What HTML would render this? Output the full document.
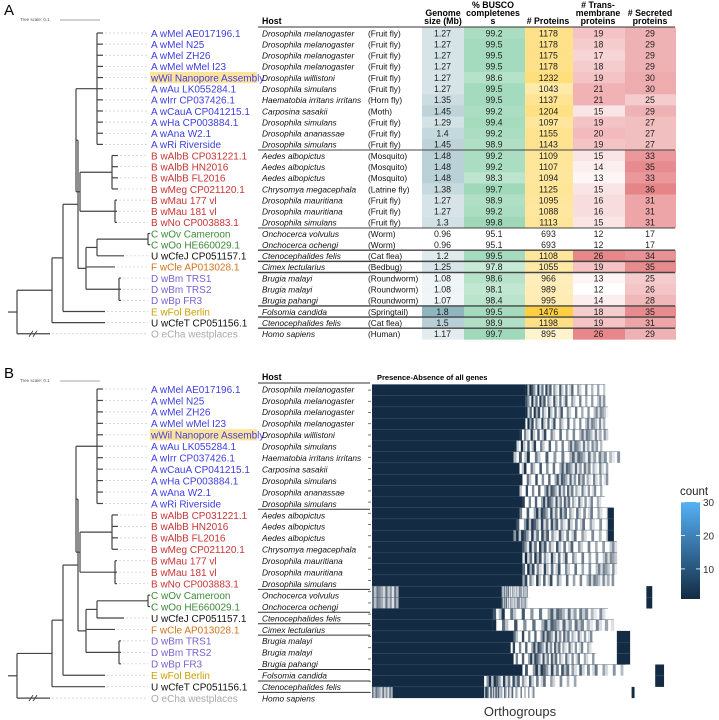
<!DOCTYPE html>
<html><head><meta charset="utf-8"><style>
body{margin:0;background:#fff}
svg{display:block;font-family:"Liberation Sans",sans-serif}
</style></head><body>
<svg id="fig" width="719" height="720" viewBox="0 0 719 720">
<text x="4" y="15" font-size="15">A</text>
<text x="4" y="378" font-size="15">B</text>
</svg>
<script>
const labels=["A wMel AE017196.1","A wMel N25","A wMel ZH26","A wMel wMel I23","wWil Nanopore Assembly","A wAu LK055284.1","A wIrr CP037426.1","A wCauA CP041215.1","A wHa CP003884.1","A wAna W2.1","A wRi Riverside","B wAlbB CP031221.1","B wAlbB HN2016","B wAlbB FL2016","B wMeg CP021120.1","B wMau 177 vl","B wMau 181 vl","B wNo CP003883.1","C wOv Cameroon","C wOo HE660029.1","U wCfeJ CP051157.1","F wCle AP013028.1","D wBm TRS1","D wBm TRS2","D wBp FR3","E wFol Berlin","U wCfeT CP051156.1","O eCha westplaces"];
const groups=["A","A","A","A","A","A","A","A","A","A","A","B","B","B","B","B","B","B","C","C","U","F","D","D","D","E","U","O"];
const hosts=["Drosophila melanogaster","Drosophila melanogaster","Drosophila melanogaster","Drosophila melanogaster","Drosophila willistoni","Drosophila simulans","Haematobia irritans irritans","Carposina sasakii","Drosophila simulans","Drosophila ananassae","Drosophila simulans","Aedes albopictus","Aedes albopictus","Aedes albopictus","Chrysomya megacephala","Drosophila mauritiana","Drosophila mauritiana","Drosophila simulans","Onchocerca volvulus","Onchocerca ochengi","Ctenocephalides felis","Cimex lectularius","Brugia malayi","Brugia malayi","Brugia pahangi","Folsomia candida","Ctenocephalides felis","Homo sapiens"];
const common=["(Fruit fly)","(Fruit fly)","(Fruit fly)","(Fruit fly)","(Fruit fly)","(Fruit fly)","(Horn fly)","(Moth)","(Fruit fly)","(Fruit fly)","(Fruit fly)","(Mosquito)","(Mosquito)","(Mosquito)","(Latrine fly)","(Fruit fly)","(Fruit fly)","(Fruit fly)","(Worm)","(Worm)","(Cat flea)","(Bedbug)","(Roundworm)","(Roundworm)","(Roundworm)","(Springtail)","(Cat flea)","(Human)"];
const genome=[1.27,1.27,1.27,1.27,1.27,1.27,1.35,1.45,1.29,1.4,1.45,1.48,1.48,1.48,1.38,1.27,1.27,1.3,0.96,0.96,1.2,1.25,1.08,1.08,1.07,1.8,1.5,1.17];
const busco=[99.2,99.5,99.5,99.5,98.6,99.5,99.5,99.2,99.4,99.2,98.9,99.2,99.2,98.3,99.7,98.9,99.2,99.8,95.1,95.1,99.5,97.8,98.6,98.1,98.4,99.5,98.9,99.7];
const proteins=[1178,1178,1175,1178,1232,1043,1137,1204,1097,1155,1143,1109,1107,1094,1125,1095,1088,1113,693,693,1108,1055,966,989,995,1476,1198,895];
const transmem=[19,18,17,18,19,21,21,15,19,20,19,15,14,13,15,16,16,15,12,12,26,19,13,12,14,18,19,26];
const secreted=[29,29,29,29,30,30,25,29,27,27,27,33,35,33,36,31,31,31,17,17,34,35,25,26,28,35,31,29];
const separators=[10,17,19,20,21,24,25,26];
// heatmap per-row profile (fractions of orthogroup axis)
const hmLightStart=[0,0,0,0,0,0,0,0,0,0,0,0,0,0,0,0,0,0,0.09,0.09,0,0,0,0,0,0,0,0.07];
const hmCore=[0.52,0.52,0.52,0.52,0.50,0.49,0.48,0.50,0.51,0.50,0.51,0.50,0.49,0.48,0.50,0.51,0.51,0.51,0.44,0.44,0.41,0.41,0.48,0.47,0.48,0.51,0.38,0.38];
const hmTail=[0.79,0.79,0.80,0.79,0.80,0.78,0.84,0.80,0.80,0.78,0.79,0.82,0.82,0.82,0.83,0.83,0.83,0.82,0.53,0.53,0.80,0.82,0.76,0.75,0.76,0.86,0.70,0.55];
const hmExtraStart=[0,0,0,0,0,0,0,0,0,0,0,0.80,0.80,0.80,0,0,0,0,0.93,0.93,0,0,0.83,0.83,0.83,0.96,0.96,0.88];
const hmExtraEnd=[0,0,0,0,0,0,0,0,0,0,0,0.82,0.82,0.82,0,0,0,0,0.95,0.95,0,0,0.875,0.875,0.875,0.99,0.99,0.89];
const tailPattern=[1,0.3,1,0.8,0.5,0.1,1,0.2,0.7,0,1,0.4,0.9,0,0.6,0.2,0,1,0.3,0,0.8,0,0.3,1,0,0,0.7,0.3,0,0,0.9,0,0,0.6,0,0,0.8,0,0,0.5];
const cbTicks=[10,20,30];

const NS="http://www.w3.org/2000/svg";
const svg=document.getElementById('fig');
function mk(tag,attrs,parent){const e=document.createElementNS(NS,tag);for(const k in attrs)e.setAttribute(k,attrs[k]);(parent||svg).appendChild(e);return e;}
const gcol={A:"#3f3fe0",B:"#c83636",C:"#3d8a36",U:"#111",F:"#d2731e",D:"#7b62cf",E:"#cc9e00",O:"#aaaaaa"};
function mix(c,t){const r=parseInt(c.slice(1,3),16),g=parseInt(c.slice(3,5),16),b=parseInt(c.slice(5,7),16);t=Math.max(0,Math.min(1,t));return `rgb(${Math.round(255+(r-255)*t)},${Math.round(255+(g-255)*t)},${Math.round(255+(b-255)*t)})`;}

function drawTree(y0,pitch,panel){
  const g=mk('g',{});
  
  
  const Y=i=>y0+pitch*i;
  const ln=(x1,y1,x2,y2)=>mk('line',{x1,y1,x2,y2,stroke:'#444','stroke-width':1.2},g);
  const tip={};
  for(let i=0;i<=10;i++)tip[i]=103;
  for(let i=11;i<=14;i++)tip[i]=118;
  for(let i=15;i<=17;i++)tip[i]=117;
  tip[18]=150;tip[19]=150;tip[20]=124;tip[21]=115;tip[22]=121;tip[23]=121;tip[24]=121;tip[25]=105;tip[26]=105;tip[27]=50;
  function node(x,kids){const ys=kids.map(k=>k.y);ln(x,Math.min(...ys),x,Math.max(...ys));kids.forEach(k=>ln(x,k.y,k.x,k.y));return {x,y:(Math.min(...ys)+Math.max(...ys))/2};}
  const leaf=i=>({x:tip[i],y:Y(i)});
  const A=node(97,[0,1,2,3,4,5,6,7,8,9,10].map(leaf));
  const B1=node(112,[11,12,13,14].map(leaf));
  const B2=node(115,[15,16,17].map(leaf));
  const B=node(80,[B1,B2]);
  const AB=node(76,[A,B]);
  const C=node(148,[leaf(18),leaf(19)]);
  const CU=node(97,[C,leaf(20)]);
  const D=node(119,[22,23,24].map(leaf));
  const N5=node(86,[CU,leaf(21),D]);
  const N3=node(78,[AB,N5]);
  const N2=node(63,[N3,leaf(25)]);
  const N1=node(52,[N2,leaf(26)]);
  const R=node(17,[N1,leaf(27)]);
  ln(8,R.y,17,R.y);
  mk('path',{d:`M${29},${Y(27)+3} l4,-6 M${33},${Y(27)+3} l4,-6`,stroke:'#444','stroke-width':1,fill:'none'},g);
  for(let i=0;i<28;i++){mk('line',{x1:tip[i]+2,y1:Y(i),x2:148,y2:Y(i),stroke:'#ccc','stroke-width':0.7,'stroke-dasharray':'2,2'},g);}
}

function drawLabels(y0,pitch,panel){
  for(let i=0;i<28;i++){
    const y=y0+pitch*i;
    if(i===4){const h=mk('rect',{x:150,y:y-5.6,width:107,height:11.2,fill:'#fde39c'});
      }
    const t=mk('text',{x:151,y:y+3.8,'font-size':10,fill:gcol[groups[i]]});t.textContent=labels[i];
    
    const h=mk('text',{x:262,y:y+3.3,'font-size':8.3,'font-style':'italic',fill:'#111'});h.textContent=hosts[i];
    
  }
}

// ---- Panel A ----
const yA=33,pA=11.14;
const st=mk('text',{x:20,y:21,'font-size':4.5,fill:'#555'});st.textContent="Tree scale: 0.1";

mk('line',{x1:60,y1:20,x2:100,y2:20,stroke:'#888','stroke-width':0.7});
const sb=mk('text',{x:20,y:382,'font-size':4.5,fill:'#555'});sb.textContent="Tree scale: 0.1";

mk('line',{x1:60,y1:381,x2:100,y2:381,stroke:'#888','stroke-width':0.7});

const cols=[
 {name:'genome-size',x0:422,x1:463,vals:genome,min:0.96,max:1.8,c:'#8fb6be'},
 {name:'busco',x0:464,x1:524,vals:busco,min:95.1,max:99.8,c:'#9ed8b8'},
 {name:'proteins',x0:525,x1:572,vals:proteins,min:693,max:1476,c:'#ffcf40'},
 {name:'transmembrane',x0:573,x1:624,vals:transmem,min:12,max:26,c:'#e8878a'},
 {name:'secreted',x0:625,x1:675,vals:secreted,min:17,max:36,c:'#e68588'}];
cols.forEach(col=>{
  col.vals.forEach((v,i)=>{
    const y=yA+pA*i;
    const r=mk('rect',{x:col.x0,y:y-pA/2,width:col.x1-col.x0+1,height:pA+0.3,fill:mix(col.c,(v-col.min)/(col.max-col.min))});
    
    const t=mk('text',{x:(col.x0+col.x1)/2,y:y+3.3,'font-size':8.8,'text-anchor':'middle',fill:'#222'});t.textContent=v;
    
  });
});
for(let i=0;i<28;i++){const t=mk('text',{x:368,y:yA+pA*i+3.3,'font-size':8.3,fill:'#111'});t.textContent=common[i];
  }
const heads=[[262,24,"Host",'start'],[443,16,"Genome",'middle'],[443,24,"size (Mb)",'middle'],[493,8,"% BUSCO",'middle'],[493,16,"completenes",'middle'],[493,24,"s",'middle'],[548,24,"# Proteins",'middle'],[598,8,"# Trans-",'middle'],[598,16,"membrane",'middle'],[598,24,"proteins",'middle'],[650,16,"# Secreted",'middle'],[650,24,"proteins",'middle']];
heads.forEach(h=>{const t=mk('text',{x:h[0],y:h[1],'font-size':8.8,'font-weight':'bold','text-anchor':h[3]});t.textContent=h[2];
  });
mk('line',{x1:258,y1:27,x2:675,y2:27,stroke:'#333','stroke-width':1});
separators.forEach(s=>{const y=yA+pA*(s+0.5);const l=mk('line',{x1:258,y1:y,x2:675,y2:y,stroke:'#444','stroke-width':s===10||s===17?1:1.4});
  });
drawTree(yA,pA,'panel-a');
drawLabels(yA,pA,'panel-a');

// ---- Panel B ----
const yB=389,pB=11.45;
drawTree(yB,pB,'panel-b');
drawLabels(yB,pB,'panel-b');
const hb=mk('text',{x:262,y:380,'font-size':8.8,'font-weight':'bold'});hb.textContent="Host";

const ht=mk('text',{x:377,y:380,'font-size':7.5,'font-weight':'bold'});ht.textContent="Presence-Absence of all genes";

separators.forEach(s=>{const y=yB+pB*(s+0.5);mk('line',{x1:258,y1:y,x2:370,y2:y,stroke:'#333','stroke-width':1});});
mk('line',{x1:258,y1:383,x2:370,y2:383,stroke:'#333','stroke-width':1});
const HX0=372,HX1=667,HY0=384.5,HP=11.2;
const xS=f=>HX0+f*(HX1-HX0);
const dark='#132b43';
const hm=mk('g',{});
for(let i=0;i<28;i++){
  const y=HY0+HP*i;
  mk('line',{x1:368,y1:y+HP/2,x2:371,y2:y+HP/2,stroke:'#555','stroke-width':0.8},hm);
  if(hmLightStart[i]>0){
    const n=12;for(let k=0;k<n;k++){const a=xS(hmLightStart[i]*k/n),b=xS(hmLightStart[i]*(k+1)/n);
      mk('rect',{x:a,y,width:b-a,height:HP,fill:mix(dark,0.15+0.5*tailPattern[k])},hm);}
  }
  const core=mk('rect',{x:xS(hmLightStart[i]),y,width:xS(hmCore[i])-xS(hmLightStart[i]),height:HP,fill:dark},hm);
  
  const n=tailPattern.length;
  for(let k=0;k<n;k++){
    const a=hmCore[i]+(hmTail[i]-hmCore[i])*k/n,b=hmCore[i]+(hmTail[i]-hmCore[i])*(k+1)/n;
    const v=tailPattern[(k+i*3)%n]*(1-0.5*k/n);
    if(v>0.05)mk('rect',{x:xS(a),y,width:xS(b)-xS(a)+0.3,height:HP,fill:mix(dark,v)},hm);
  }
  if(hmExtraEnd[i]>0)mk('rect',{x:xS(hmExtraStart[i]),y,width:xS(hmExtraEnd[i])-xS(hmExtraStart[i]),height:HP,fill:dark},hm);
  mk('line',{x1:HX0,y1:y,x2:xS(hmTail[i]),y2:y,stroke:'#3a5570','stroke-width':0.4},hm);
}
const ox=mk('text',{x:520,y:716,'font-size':13,'text-anchor':'middle',fill:'#333'});ox.textContent="Orthogroups";

const defs=mk('defs',{});const lg=mk('linearGradient',{id:'cb',x1:0,y1:1,x2:0,y2:0},defs);
mk('stop',{offset:0,'stop-color':'#132b43'},lg);mk('stop',{offset:1,'stop-color':'#56b1f7'},lg);
const lt=mk('text',{x:680,y:495,'font-size':11.5,fill:'#222'});lt.textContent="count";

const cbTop=502,cbBot=599,cbMin=1,cbMax=30;
const cb=mk('rect',{x:681,y:cbTop,width:19,height:cbBot-cbTop,fill:'url(#cb)'});

cbTicks.forEach(v=>{const y=cbBot-(v-cbMin)/(cbMax-cbMin)*(cbBot-cbTop);
  mk('line',{x1:681,y1:y,x2:685,y2:y,stroke:'#fff','stroke-width':0.8});mk('line',{x1:696,y1:y,x2:700,y2:y,stroke:'#fff','stroke-width':0.8});
  const t=mk('text',{x:703,y:y+4,'font-size':10,fill:'#333'});t.textContent=v;
  });
</script>
</body></html>
